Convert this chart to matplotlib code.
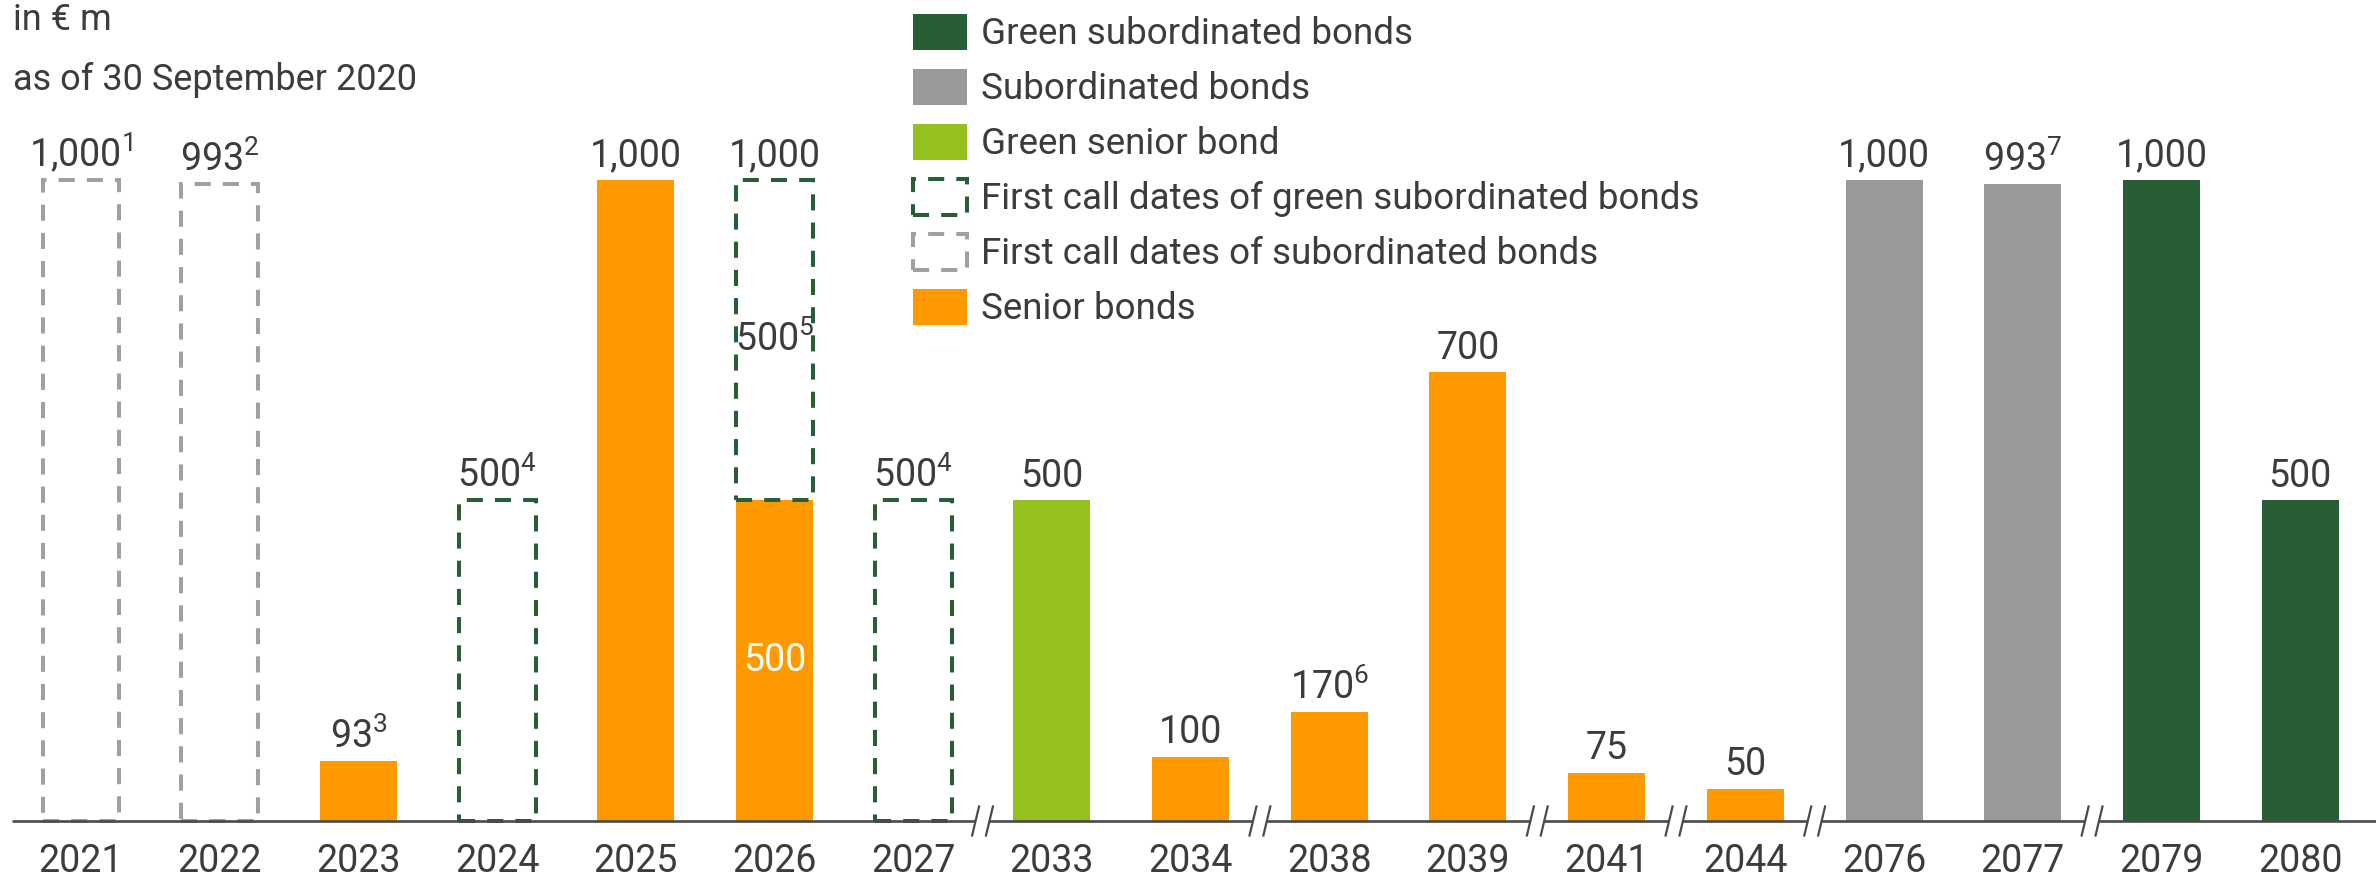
import numpy as np
import matplotlib.pyplot as plt
from matplotlib.patches import Patch
from matplotlib import font_manager

# pick a narrow sans if there is one
family = 'Roboto'
try:
    font_manager.findfont(font_manager.FontProperties(family='Liberation Sans Narrow'),
                          fallback_to_default=False)
    family = 'Liberation Sans Narrow'
except ValueError:
    pass

plt.rcParams['font.family'] = [family, 'DejaVu Sans']
plt.rcParams['mathtext.fontset'] = 'custom'
plt.rcParams['mathtext.rm'] = family
plt.rcParams['mathtext.it'] = family
plt.rcParams['mathtext.bf'] = family

# maturities in € m
years = ['2021', '2022', '2023', '2024', '2025', '2026', '2027', '2033', '2034',
         '2038', '2039', '2041', '2044', '2076', '2077', '2079', '2080']
senior = [0, 0, 93, 0, 1000, 500, 0, 0, 100, 170, 700, 75, 50, 0, 0, 0, 0]
green_senior = [0, 0, 0, 0, 0, 0, 0, 500, 0, 0, 0, 0, 0, 0, 0, 0, 0]
subordinated = [0, 0, 0, 0, 0, 0, 0, 0, 0, 0, 0, 0, 0, 1000, 993, 0, 0]
green_sub = [0, 0, 0, 0, 0, 0, 0, 0, 0, 0, 0, 0, 0, 0, 0, 1000, 500]
call_sub = [1000, 993, 0, 0, 0, 0, 0, 0, 0, 0, 0, 0, 0, 0, 0, 0, 0]
call_green_sub = [0, 0, 0, 500, 0, 500, 500, 0, 0, 0, 0, 0, 0, 0, 0, 0, 0]
footnotes = ['1', '2', '3', '4', '', '', '4', '', '', '6', '', '', '', '', '7', '', '']
call_note_2026 = '5'
breaks_after = ['2027', '2034', '2039', '2041', '2044', '2077']

C_SENIOR = '#fe9a00'
C_GREEN_SENIOR = '#95c11f'
C_SUB = '#999999'
C_GREEN_SUB = '#275e35'
C_CALL_SUB = '#a0a0a0'
C_TEXT = '#3c3c3c'
C_AXIS = '#4a4a4a'

fig = plt.figure(figsize=(23.76, 8.77), dpi=100)
ax = fig.add_axes([0, 0, 1, 1])
ax.set_xlim(-0.584, 16.547)
ax.set_ylim(-87.4, 1280.8)
ax.axis('off')

x = np.arange(len(years))
w = 0.555
senior = np.array(senior)
green_senior = np.array(green_senior)
subordinated = np.array(subordinated)
green_sub = np.array(green_sub)
call_sub = np.array(call_sub)
call_green_sub = np.array(call_green_sub)

ax.bar(x, senior, w, color=C_SENIOR, zorder=2)
ax.bar(x, green_senior, w, color=C_GREEN_SENIOR, zorder=2)
ax.bar(x, subordinated, w, color=C_SUB, zorder=2)
ax.bar(x, green_sub, w, color=C_GREEN_SUB, zorder=2)

dash = (0, (4, 3))
m = call_sub > 0
ax.bar(x[m], call_sub[m], w, fill=False, edgecolor=C_CALL_SUB, lw=2.9,
       linestyle=dash, zorder=3)
m = call_green_sub > 0
ax.bar(x[m], call_green_sub[m], w, bottom=senior[m], fill=False, edgecolor=C_GREEN_SUB,
       lw=2.9, linestyle=dash, zorder=3)

# value labels above the bars
totals = senior + green_senior + subordinated + green_sub + call_sub + call_green_sub
for xi, tot, fn in zip(x, totals, footnotes):
    s = f'{tot:,}'
    if fn:
        s += '$^{' + fn + '}$'
    ax.text(xi, tot + 21, s, ha='center', va='baseline', fontsize=27, color=C_TEXT)

# 2026: senior part and callable part labelled separately
i26 = years.index('2026')
ax.text(i26, senior[i26] / 2, f'{senior[i26]:,}', ha='center', va='center',
        fontsize=27, color='white', zorder=4)
ax.text(i26, senior[i26] + call_green_sub[i26] / 2,
        f'{call_green_sub[i26]:,}' + '$^{' + call_note_2026 + '}$',
        ha='center', va='center', fontsize=27, color=C_TEXT, zorder=4)

# year labels
for xi, yr in zip(x, years):
    ax.text(xi, -79.6, yr, ha='center', va='baseline', fontsize=27, color=C_TEXT)

# baseline with scale breaks
ax.plot([-0.497, 16.547], [0, 0], color=C_AXIS, lw=1.9, zorder=5, solid_capstyle='butt')
for yr in breaks_after:
    b = years.index(yr) + 0.5
    ax.plot([b - 0.05, b + 0.05], [0, 0], color='white', lw=4, zorder=6,
            solid_capstyle='butt')
    for off in (-0.05, 0.05):
        ax.plot([b + off - 0.025, b + off + 0.025], [-22.6, 22.6], color=C_AXIS,
                lw=1.6, zorder=7)

# header text
fig.text(13 / 2376, 1 - 30 / 877, 'in € m', ha='left', va='baseline', fontsize=26,
         color=C_TEXT)
fig.text(13 / 2376, 1 - 90 / 877, 'as of 30 September 2020', ha='left', va='baseline',
         fontsize=26, color=C_TEXT)

handles = [
    Patch(facecolor=C_GREEN_SUB, label='Green subordinated bonds'),
    Patch(facecolor=C_SUB, label='Subordinated bonds'),
    Patch(facecolor=C_GREEN_SENIOR, label='Green senior bond'),
    Patch(facecolor='none', edgecolor=C_GREEN_SUB, lw=2.9, linestyle=dash,
          label='First call dates of green subordinated bonds'),
    Patch(facecolor='none', edgecolor=C_CALL_SUB, lw=2.9, linestyle=dash,
          label='First call dates of subordinated bonds'),
    Patch(facecolor=C_SENIOR, label='Senior bonds'),
]
leg = fig.legend(handles=handles, loc='upper left', bbox_to_anchor=(913 / 2376, 1 - 14 / 877),
                 frameon=False, fontsize=26.5, borderpad=0, borderaxespad=0,
                 handlelength=1.48, handleheight=1.12, handletextpad=0.36,
                 labelspacing=0.45)
for t in leg.get_texts():
    t.set_color(C_TEXT)

fig.savefig('out.png', dpi=100)
